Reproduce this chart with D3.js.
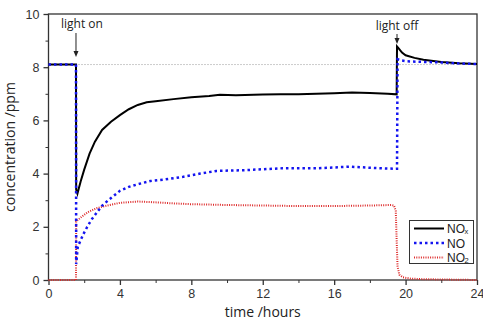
<!DOCTYPE html>
<html>
<head>
<meta charset="utf-8">
<script src="https://cdn.jsdelivr.net/npm/d3@7.9.0/dist/d3.min.js"></script>
<style>
  body { margin: 0; background: #fff; }
  svg text { font-family: "Open Sans", sans-serif; fill: #222; }
  .tick text { font-family: "Liberation Sans", Arial, sans-serif; font-size: 12.5px; fill: #333; }
  .legend text { font-family: "Liberation Sans", Arial, sans-serif; }
</style>
</head>
<body>
<svg id="chart" width="483" height="322"></svg>
<script>
// time in hours, concentration in ppm (steps use repeated times)
const noxTime = [0, 1.54, 1.55, 1.62, 1.8, 2.0, 2.3, 2.6, 3.0, 3.5, 4.0, 4.5, 5.0, 5.5, 6.0, 7.0, 8.0, 9.0, 9.6, 10.5, 12, 13, 14, 15, 16, 17, 18, 19, 19.5, 19.52, 19.6, 19.8, 20.0, 20.5, 21, 22, 23, 24];
const noxValues = [8.1, 8.1, 3.4, 3.25, 3.7, 4.15, 4.75, 5.2, 5.64, 5.95, 6.2, 6.42, 6.58, 6.68, 6.72, 6.8, 6.87, 6.92, 6.96, 6.95, 6.97, 6.98, 6.98, 7.0, 7.02, 7.05, 7.03, 7.0, 6.98, 8.78, 8.72, 8.55, 8.45, 8.35, 8.28, 8.2, 8.15, 8.12];

const noTime = [0, 1.54, 1.55, 1.64, 1.95, 2.17, 2.42, 2.98, 3.35, 4.0, 4.5, 5.0, 5.7, 6.5, 7.55, 8.5, 9.4, 11, 13.1, 15, 16.9, 18, 19.4, 19.52, 19.55, 19.8, 20.07, 21, 21.9, 23, 24];
const noValues = [8.1, 8.1, 0.6, 1.25, 1.72, 2.0, 2.28, 2.78, 3.0, 3.35, 3.5, 3.6, 3.72, 3.78, 3.88, 4.0, 4.1, 4.13, 4.2, 4.2, 4.26, 4.22, 4.18, 4.18, 8.3, 8.25, 8.22, 8.2, 8.18, 8.14, 8.12];

const no2Time = [0, 1.54, 1.55, 1.86, 2.2, 2.7, 3.3, 4, 5, 6, 7, 8, 10, 12, 14, 16, 18, 19.2, 19.35, 19.45, 19.5, 19.55, 19.65, 19.85, 20.3, 21, 22, 24];
const no2Values = [0.0, 0.0, 2.2, 2.38, 2.55, 2.7, 2.8, 2.9, 2.95, 2.92, 2.88, 2.85, 2.82, 2.8, 2.78, 2.78, 2.8, 2.82, 2.8, 2.6, 1.5, 0.5, 0.2, 0.1, 0.05, 0.03, 0.02, 0.0];

const xTicks = [0, 4, 8, 12, 16, 20, 24];
const yTicks = [0, 2, 4, 6, 8, 10];
const baseline = 8.1;
const lightOn = 1.54, lightOff = 19.52;

const svg = d3.select('#chart');
const x = d3.scaleLinear().domain([0, 24]).range([48.5, 477]);
const y = d3.scaleLinear().domain([0, 10]).range([280, 14]);

// frame
svg.append('rect')
  .attr('x', x(0)).attr('y', y(10))
  .attr('width', x(24) - x(0)).attr('height', y(0) - y(10))
  .attr('fill', 'none').attr('stroke', '#333').attr('stroke-width', 1.3);

// minor ticks
svg.append('g').attr('transform', `translate(0,${y(0)})`)
  .call(d3.axisBottom(x).tickValues(d3.range(2, 24, 4)).tickSize(3).tickFormat(''))
  .call(g => g.select('.domain').remove())
  .selectAll('line').attr('stroke', '#333');
svg.append('g').attr('transform', `translate(${x(0)},0)`)
  .call(d3.axisLeft(y).tickValues(d3.range(1, 10, 2)).tickSize(3).tickFormat(''))
  .call(g => g.select('.domain').remove())
  .selectAll('line').attr('stroke', '#333');

// major ticks
const xAxis = svg.append('g').attr('transform', `translate(0,${y(0)})`)
  .call(d3.axisBottom(x).tickValues(xTicks).tickSize(5).tickPadding(4));
xAxis.select('.domain').remove();
xAxis.selectAll('line').attr('stroke', '#333').attr('stroke-width', 1.3);

const yAxis = svg.append('g').attr('transform', `translate(${x(0)},0)`)
  .call(d3.axisLeft(y).tickValues(yTicks).tickSize(5).tickPadding(4));
yAxis.select('.domain').remove();
yAxis.selectAll('line').attr('stroke', '#333').attr('stroke-width', 1.3);

// reference line
svg.append('line')
  .attr('x1', x(0)).attr('x2', x(24))
  .attr('y1', y(baseline)).attr('y2', y(baseline))
  .attr('stroke', '#999').attr('stroke-width', 1).attr('stroke-dasharray', '1,2');

const line = d3.line().x(d => x(d[0])).y(d => y(d[1]));

svg.append('path')
  .datum(d3.zip(no2Time, no2Values))
  .attr('d', line)
  .attr('fill', 'none').attr('stroke', '#dd2a2a').attr('stroke-width', 2)
  .attr('stroke-dasharray', '1,1.3');

svg.append('path')
  .datum(d3.zip(noxTime, noxValues))
  .attr('d', line)
  .attr('fill', 'none').attr('stroke', '#000').attr('stroke-width', 2);

svg.append('path')
  .datum(d3.zip(noTime, noValues))
  .attr('d', line)
  .attr('fill', 'none').attr('stroke', '#1414f0').attr('stroke-width', 2.5)
  .attr('stroke-dasharray', '2.5,3');

// annotations
function arrow(t, y1, y2) {
  svg.append('line')
    .attr('x1', x(t)).attr('x2', x(t)).attr('y1', y1).attr('y2', y2 - 4)
    .attr('stroke', '#222').attr('stroke-width', 1);
  svg.append('path')
    .attr('d', `M${x(t) - 2.5},${y2 - 6}L${x(t) + 2.5},${y2 - 6}L${x(t)},${y2}Z`)
    .attr('fill', '#222');
}
svg.append('text').attr('x', x(lightOn) + 6).attr('y', 28)
  .attr('text-anchor', 'middle').attr('font-size', 12).text('light on');
arrow(lightOn, 33, 57);
svg.append('text').attr('x', x(lightOff)).attr('y', 30)
  .attr('text-anchor', 'middle').attr('font-size', 12).text('light off');
arrow(lightOff, 34, 44);

// axis titles
svg.append('text')
  .attr('transform', `translate(15,${(y(0) + y(10)) / 2}) rotate(-90)`)
  .attr('text-anchor', 'middle').attr('font-size', 14).text('concentration /ppm');
svg.append('text')
  .attr('x', (x(0) + x(24)) / 2).attr('y', 317)
  .attr('text-anchor', 'middle').attr('font-size', 14).text('time /hours');

// legend
const legend = svg.append('g').attr('class', 'legend');
legend.append('rect')
  .attr('x', 409.5).attr('y', 220.5).attr('width', 64).attr('height', 43)
  .attr('fill', '#fff').attr('stroke', '#333').attr('stroke-width', 1);
const items = [
  { name: 'NO', sub: 'x', color: '#000', width: 2, dash: null },
  { name: 'NO', sub: '', color: '#1414f0', width: 2.5, dash: '2.5,3' },
  { name: 'NO', sub: '2', color: '#dd2a2a', width: 2, dash: '1,1.3' }
];
items.forEach((d, i) => {
  const ly = 228.5 + i * 14.5;
  legend.append('line')
    .attr('x1', 414).attr('x2', 444).attr('y1', ly).attr('y2', ly)
    .attr('stroke', d.color).attr('stroke-width', d.width)
    .attr('stroke-dasharray', d.dash);
  legend.append('text').attr('x', 447).attr('y', ly + 4.5)
    .attr('font-size', 12).text(d.name);
  if (d.sub) {
    legend.append('text').attr('x', 447 + 17.5).attr('y', ly + 5.5)
      .attr('font-size', 7.5).text(d.sub);
  }
});
</script>
</body>
</html>
